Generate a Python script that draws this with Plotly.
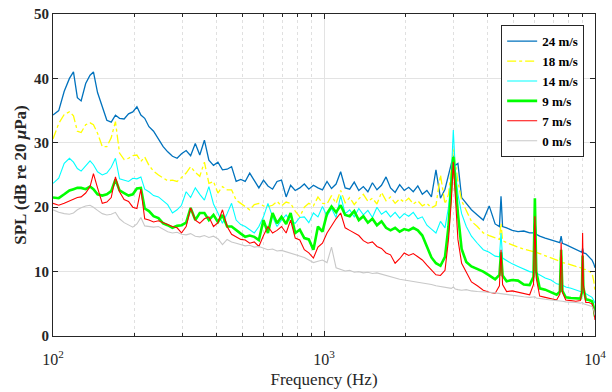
import plotly.graph_objects as go

# Frequency axis (Hz) shared by all spectra
freq_hz = [100, 105, 110, 115, 119, 123, 127, 132, 137, 141,
           146, 152, 158, 164, 170, 176, 183, 190, 197, 204,
           211, 218, 226, 235, 245, 255, 265, 276, 287, 298,
           310, 322, 335, 348, 362, 376, 391, 406, 422, 439,
           456, 474, 493, 512, 532, 553, 575, 598, 621, 646,
           671, 697, 725, 753, 783, 814, 846, 879, 914, 950,
           987, 1026, 1066, 1108, 1152, 1197, 1244, 1293, 1344, 1397,
           1452, 1509, 1568, 1630, 1694, 1760, 1830, 1902, 1977, 2054,
           2135, 2219, 2306, 2397, 2491, 2589, 2690, 2796, 2880, 2950,
           3000, 3050, 3120, 3220, 3350, 3500, 3680, 3870, 4070, 4280,
           4440, 4500, 4560, 4720, 4950, 5200, 5460, 5740, 5930, 6000,
           6070, 6250, 6550, 6880, 7220, 7420, 7500, 7580, 7800, 8150,
           8500, 8830, 8950, 9000, 9060, 9250, 9500, 9750, 9900, 10000]

# SPL spectra (dB re 20 uPa) for each wind speed
spl_24 = [34.3, 35.0, 38.0, 40.0, 41.0, 37.0, 36.5, 39.2, 40.5, 41.0,
          37.8, 35.5, 33.5, 33.2, 34.3, 33.8, 33.7, 34.5, 34.8, 35.6,
          34.3, 33.8, 32.5, 31.8, 30.6, 29.4, 28.6, 27.9, 27.6, 28.3,
          28.8, 28.0, 29.9, 28.1, 30.4, 27.3, 26.5, 27.0, 25.8, 25.9,
          26.3, 24.0, 24.3, 24.0, 25.3, 24.2, 23.0, 24.2, 23.3, 22.8,
          24.0, 24.2, 21.6, 23.4, 22.6, 23.0, 23.6, 22.8, 23.4, 23.0,
          22.7, 24.0, 22.9, 23.6, 25.5, 23.0, 22.8, 23.9, 22.6, 23.2,
          22.4, 23.8, 22.7, 23.4, 24.7, 23.0, 22.3, 23.5, 22.6, 23.1,
          22.4, 23.3, 22.0, 22.6, 21.6, 25.8, 21.4, 22.8, 25.0, 27.0,
          28.0, 26.5, 26.8, 21.5, 20.6, 19.6, 18.8, 18.0, 20.2, 17.4,
          17.0, 21.7, 17.0, 16.8, 16.4, 16.2, 16.3, 16.0, 16.0, 18.0,
          15.8, 15.5, 15.2, 14.9, 14.6, 14.5, 15.5, 14.4, 14.2, 13.8,
          13.5, 13.1, 13.0, 13.6, 12.9, 12.8, 12.3, 11.8, 11.2, 10.6]

spl_18 = [30.6, 33.0, 34.4, 34.8, 34.2, 31.8, 31.6, 32.8, 33.1, 32.8,
          31.5, 29.4, 29.4, 30.8, 33.3, 28.4, 27.4, 27.6, 28.0, 28.1,
          27.1, 27.8, 26.5, 25.6, 25.0, 24.6, 24.1, 24.2, 24.0, 24.6,
          25.3, 26.3, 25.4, 24.8, 27.0, 23.7, 24.0, 22.2, 23.2, 22.7,
          22.7, 21.1, 20.6, 20.0, 19.6, 20.4, 20.6, 20.2, 20.1, 20.3,
          20.9, 20.2, 20.8, 20.6, 19.4, 18.5, 20.0, 20.6, 20.2, 21.6,
          20.6, 20.5, 21.8, 20.6, 22.6, 20.7, 21.5, 20.4, 21.3, 22.0,
          20.9, 21.4, 20.5, 22.3, 21.0, 21.6, 20.6, 21.3, 20.8, 21.4,
          20.5, 21.0, 20.2, 20.6, 19.9, 20.3, 25.0, 20.5, 22.0, 26.0,
          29.0, 27.0, 24.0, 21.0, 19.6, 17.8, 17.0, 16.0, 15.6, 15.2,
          15.0, 17.5, 14.8, 14.5, 14.1, 13.8, 13.5, 13.2, 13.1, 15.5,
          13.0, 12.8, 12.5, 12.2, 11.8, 11.6, 13.0, 11.4, 11.3, 11.0,
          10.8, 10.6, 10.5, 11.2, 10.4, 10.3, 10.0, 9.8, 8.5, 6.9]

spl_14 = [23.7, 24.5, 26.8, 27.6, 27.0, 26.0, 25.6, 26.5, 27.2, 26.6,
          25.5, 25.0, 25.3, 26.2, 27.6, 24.4, 24.2, 24.0, 24.5, 24.4,
          24.7, 22.8, 22.4, 21.8, 21.6, 21.0, 20.4, 19.1, 19.6, 20.3,
          22.4, 21.5, 23.0, 22.0, 21.1, 23.2, 20.5, 19.1, 17.5, 19.0,
          20.6, 18.0, 17.3, 17.0, 16.5, 16.0, 17.0, 18.5, 20.6, 18.5,
          17.0, 18.0, 18.8, 17.8, 17.5, 18.4, 18.5, 17.6, 19.1, 18.5,
          20.1, 18.6, 19.8, 18.4, 21.8, 19.0, 19.6, 18.5, 19.8, 18.8,
          19.5, 18.4, 20.0, 18.9, 19.4, 18.5, 19.2, 18.3, 19.0, 18.6,
          19.2, 18.2, 18.5, 17.2, 16.6, 16.0, 17.8, 16.8, 20.0, 25.0,
          32.0, 26.0, 22.0, 19.0, 17.0, 15.5, 14.4, 13.4, 13.0, 12.4,
          12.3, 16.0, 12.1, 11.7, 11.2, 10.8, 10.4, 10.0, 9.9, 14.0,
          9.8, 9.5, 9.0, 8.7, 8.1, 8.0, 10.5, 7.9, 7.6, 7.4,
          7.1, 6.9, 6.9, 8.0, 6.8, 6.6, 6.3, 6.0, 5.5, 5.1]

spl_9 = [21.5, 21.4, 22.0, 22.6, 22.8, 23.0, 23.0, 22.8, 23.2, 22.8,
         22.0, 21.8, 22.0, 22.5, 24.3, 22.6, 22.2, 21.8, 22.0, 22.9,
         23.0, 19.8, 19.4, 18.6, 18.3, 17.5, 17.2, 16.8, 17.1, 17.2,
         17.6, 19.9, 18.0, 19.1, 19.1, 18.0, 18.8, 17.7, 18.8, 17.0,
         17.0, 16.4, 15.9, 15.4, 15.6, 15.4, 14.9, 18.0, 16.0, 19.1,
         17.5, 18.5, 17.4, 19.1, 16.0, 16.5, 15.2, 15.0, 13.4, 17.0,
         16.2, 19.0, 20.1, 19.2, 20.3, 18.8, 18.6, 19.4, 18.0, 18.6,
         17.6, 18.2, 17.2, 17.8, 16.8, 16.4, 16.8, 16.2, 16.6, 16.4,
         16.8, 16.4, 15.6, 13.9, 12.2, 11.3, 10.9, 12.3, 17.0, 23.5,
         27.8, 24.0, 19.0, 13.5, 11.5, 10.8, 10.4, 10.0, 9.4, 8.8,
         9.5, 13.0, 9.4, 8.5, 8.7, 8.6, 8.0, 7.9, 9.2, 21.4,
         10.0, 7.4, 7.2, 6.8, 6.4, 6.9, 13.4, 7.0, 6.0, 5.9,
         5.9, 5.8, 6.8, 12.5, 7.5, 5.7, 5.6, 5.4, 4.4, 3.0]

spl_7 = [20.6, 20.3, 20.6, 21.0, 21.2, 21.5, 21.6, 22.2, 23.2, 25.2,
         23.0, 20.6, 20.8, 21.5, 24.7, 22.4, 21.2, 20.9, 20.0, 19.8,
         22.8, 18.2, 18.0, 17.7, 17.9, 17.6, 17.2, 17.0, 16.8, 16.0,
         17.0, 19.9, 18.0, 17.5, 18.2, 18.5, 17.0, 17.6, 19.6, 17.0,
         15.8, 15.4, 15.0, 14.9, 14.4, 14.6, 13.9, 15.6, 17.0, 16.0,
         16.4, 17.0, 16.0, 18.0, 15.2, 14.9, 13.4, 12.9, 12.1, 13.8,
         14.4, 16.0, 17.2, 18.2, 19.1, 16.8, 16.4, 16.0, 15.6, 14.8,
         14.4, 14.6, 13.9, 13.6, 12.9, 12.6, 11.3, 12.0, 12.9, 12.5,
         12.8, 12.3, 11.8, 11.0, 10.2, 9.5, 9.4, 10.2, 15.0, 21.0,
         27.0, 21.0, 15.0, 11.3, 9.8, 8.4, 7.8, 7.1, 6.8, 6.6,
         7.8, 13.4, 8.0, 6.9, 7.0, 6.8, 6.6, 6.4, 8.0, 18.6,
         9.0, 6.2, 6.0, 5.8, 5.6, 6.5, 14.5, 6.8, 5.6, 5.5,
         5.4, 5.5, 7.0, 16.0, 8.0, 5.2, 5.2, 5.0, 4.0, 2.5]

spl_0 = [19.6, 19.2, 19.0, 18.9, 19.1, 19.6, 19.9, 20.2, 20.3, 20.0,
         19.5, 19.0, 18.8, 18.9, 19.2, 18.2, 17.6, 17.2, 16.9, 17.4,
         18.4, 17.1, 17.0, 16.9, 17.0, 16.6, 16.2, 16.0, 16.1, 15.8,
         15.7, 15.9, 15.5, 15.4, 15.6, 15.3, 15.5, 15.1, 14.2, 15.0,
         14.6, 14.4, 14.2, 14.0, 14.1, 13.8, 13.9, 13.6, 13.4, 13.5,
         13.2, 13.3, 13.1, 12.9, 12.6, 12.4, 12.2, 11.8, 11.4, 11.6,
         11.8, 11.4, 13.8, 10.6, 10.3, 10.1, 10.2, 9.9, 10.0, 9.8,
         9.9, 9.7, 9.8, 9.6, 9.3, 9.2, 9.0, 8.8, 8.7, 8.6,
         8.5, 8.3, 8.2, 8.1, 8.0, 7.8, 7.7, 7.6, 7.5, 7.4,
         7.6, 7.3, 7.2, 7.1, 7.2, 7.0, 6.9, 6.9, 6.8, 6.7,
         6.6, 6.6, 6.5, 6.4, 6.3, 6.2, 6.1, 6.0, 6.0, 6.1,
         5.9, 5.8, 5.7, 5.6, 5.5, 5.5, 5.5, 5.4, 5.3, 5.3,
         5.2, 5.1, 5.1, 5.2, 5.0, 4.9, 4.8, 4.6, 4.0, 3.2]

series_names = ["24 m/s", "18 m/s", "14 m/s", "9 m/s", "7 m/s", "0 m/s"]
series_values = [spl_24, spl_18, spl_14, spl_9, spl_7, spl_0]
series_styles = [
    dict(color="#0072BD", width=1.3, dash="solid"),
    dict(color="#FFFF00", width=1.3, dash="dashdot"),
    dict(color="#00FFFF", width=1.1, dash="solid"),
    dict(color="#00FF00", width=2.6, dash="solid"),
    dict(color="#FF0000", width=1.1, dash="solid"),
    dict(color="#C8C8C8", width=1.1, dash="solid"),
]

x_ticks = [100, 1000, 10000]
x_tick_text = ["10<sup>2</sup>", "10<sup>3</sup>", "10<sup>4</sup>"]
x_minor = [200, 300, 400, 500, 600, 700, 800, 900,
           2000, 3000, 4000, 5000, 6000, 7000, 8000, 9000]
y_ticks = [0, 10, 20, 30, 40, 50]

FONT = "Liberation Serif, Times New Roman, serif"
INK = "#262626"

fig = go.Figure()
for name, vals, style in zip(series_names, series_values, series_styles):
    fig.add_trace(go.Scatter(x=freq_hz, y=vals, mode="lines", name=name,
                             line=style))

axis_common = dict(
    showline=True, linecolor=INK, linewidth=1, mirror="ticks",
    ticks="inside", ticklen=5, tickcolor=INK,
    showgrid=True, gridcolor="#E3E3E3", gridwidth=1,
    zeroline=False, automargin=False,
)

fig.update_xaxes(
    type="log", range=[2, 4],
    tickvals=x_ticks, ticktext=x_tick_text,
    tickfont=dict(family=FONT, size=16, color=INK),
    ticklabelstandoff=9,
    minor=dict(tickvals=x_minor, ticks="inside", ticklen=3, tickcolor=INK,
               showgrid=True, gridcolor="#E0E0E0", griddash="dot", gridwidth=1),
    title=dict(text="Frequency (Hz)", font=dict(family=FONT, size=17, color=INK),
               standoff=5),
    **axis_common,
)
fig.update_yaxes(
    range=[0, 50], tickvals=y_ticks,
    ticktext=[f"<b>{v}</b>" for v in y_ticks],
    tickfont=dict(family=FONT, size=15, color=INK),
    title=dict(text="<b>SPL (dB re 20 <i>μ</i>Pa)</b>",
               font=dict(family=FONT, size=17, color=INK), standoff=3),
    **axis_common,
)

fig.update_layout(
    width=612, height=392,
    margin=dict(l=53, r=17, t=14, b=56),
    paper_bgcolor="white", plot_bgcolor="white",
    showlegend=True,
    legend=dict(
        x=0.98, y=0.965, xanchor="right", yanchor="top",
        bgcolor="white", bordercolor=INK, borderwidth=1,
        font=dict(family=FONT, size=13, color="black", weight="bold"),
        itemwidth=30, tracegroupgap=0,
    ),
)

fig.write_html("out.html", config={"displayModeBar": False})
